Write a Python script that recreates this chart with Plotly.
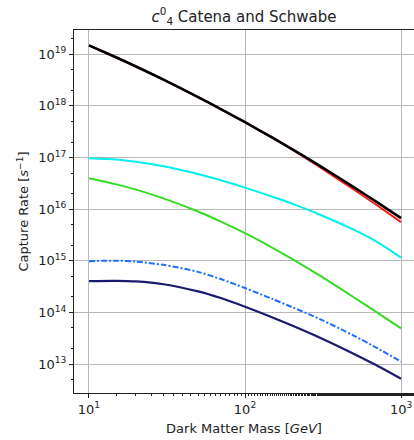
import plotly.graph_objects as go

# Dark matter mass grid [GeV]
mass = [10, 15, 20, 30, 50, 70, 100, 150, 200, 300, 500, 700, 1000]

# Capture rates [s^-1] for each operator/target combination
rate_black = [1.49e19, 8.67e18, 5.81e18, 3.23e18, 1.48e18, 8.69e17, 4.83e17,
              2.42e17, 1.46e17, 6.98e16, 2.65e16, 1.37e16, 6.7e15]
rate_red = [1.49e19, 8.67e18, 5.81e18, 3.23e18, 1.48e18, 8.69e17, 4.83e17,
            2.41e17, 1.44e17, 6.59e16, 2.38e16, 1.19e16, 5.6e15]
rate_cyan = [9.73e16, 9.16e16, 8.28e16, 6.76e16, 4.78e16, 3.62e16, 2.61e16,
             1.74e16, 1.28e16, 7.9e15, 3.96e15, 2.32e15, 1.15e15]
rate_green = [3.98e16, 3.02e16, 2.39e16, 1.62e16, 9.0e15, 5.74e15, 3.43e15,
              1.79e15, 1.09e15, 5.22e14, 1.95e14, 1.0e14, 4.9e13]
rate_blue = [9.86e14, 1.007e15, 9.64e14, 8.36e14, 6.1e14, 4.43e14, 2.97e14,
             1.82e14, 1.27e14, 7.52e13, 3.53e13, 2.05e13, 1.11e13]
rate_navy = [4.05e14, 4.09e14, 3.98e14, 3.52e14, 2.56e14, 1.9e14, 1.29e14,
             8.0e13, 5.58e13, 3.27e13, 1.57e13, 9.35e12, 5.19e12]

ytick_vals = [1e13, 1e14, 1e15, 1e16, 1e17, 1e18, 1e19]
ytick_text = ["10<sup>13</sup>", "10<sup>14</sup>", "10<sup>15</sup>", "10<sup>16</sup>",
              "10<sup>17</sup>", "10<sup>18</sup>", "10<sup>19</sup>"]
xtick_vals = [10, 100, 1000]
xtick_text = ["10<sup>1</sup>", "10<sup>2</sup>", "10<sup>3</sup>"]

series = [
    (rate_red, "#ff1a1a", 2.0, "solid"),
    (rate_black, "#000000", 2.6, "solid"),
    (rate_cyan, "#00f0f0", 2.0, "solid"),
    (rate_green, "#33dd22", 2.0, "solid"),
    (rate_blue, "#1f6fff", 2.0, "6px,2px,2px,2px"),
    (rate_navy, "#1a1a70", 2.2, "solid"),
]

fig = go.Figure()
for vals, color, width, dash in series:
    fig.add_trace(go.Scatter(
        x=mass, y=vals, mode="lines",
        line=dict(color=color, width=width, dash=dash, shape="spline", smoothing=0.8),
        showlegend=False,
    ))

font = "DejaVu Sans, Verdana, sans-serif"
ink = "#222222"
fig.update_layout(
    width=414, height=440,
    margin=dict(l=74, r=0, t=30, b=47),
    paper_bgcolor="white", plot_bgcolor="white",
    font=dict(family=font, size=13, color=ink),
    title=dict(text="<i>c</i><sup>0</sup><sub>4</sub> Catena and Schwabe",
               x=0.5, xref="paper", y=0.963, yref="container",
               xanchor="center", yanchor="middle",
               font=dict(size=15, family=font, color=ink)),
    xaxis=dict(
        type="log", range=[0.904, 3.083],
        tickvals=xtick_vals, ticktext=xtick_text,
        ticks="outside", ticklen=4, tickwidth=1, tickcolor=ink,
        showline=True, linecolor=ink, linewidth=1.2, mirror=True,
        showgrid=True, gridcolor="#b8b8b8", gridwidth=1,
        zeroline=False,
        minor=dict(ticks="outside", ticklen=2, tickcolor=ink, showgrid=False),
        title=dict(text="Dark Matter Mass [<i>GeV</i>]", standoff=8,
                   font=dict(size=13, family=font, color=ink)),
        tickfont=dict(size=13, family=font, color=ink),
    ),
    yaxis=dict(
        type="log", range=[12.44, 19.47],
        tickvals=ytick_vals, ticktext=ytick_text,
        ticks="outside", ticklen=4, tickwidth=1, tickcolor=ink,
        showline=True, linecolor=ink, linewidth=1.2,
        showgrid=True, gridcolor="#b8b8b8", gridwidth=1,
        zeroline=False,
        minor=dict(ticks="outside", ticklen=2, tickcolor=ink, showgrid=False),
        title=dict(text="Capture Rate [<i>s</i><sup>−1</sup>]", standoff=6,
                   font=dict(size=13, family=font, color=ink)),
        tickfont=dict(size=13, family=font, color=ink),
    ),
)

fig.write_html("out.html")
